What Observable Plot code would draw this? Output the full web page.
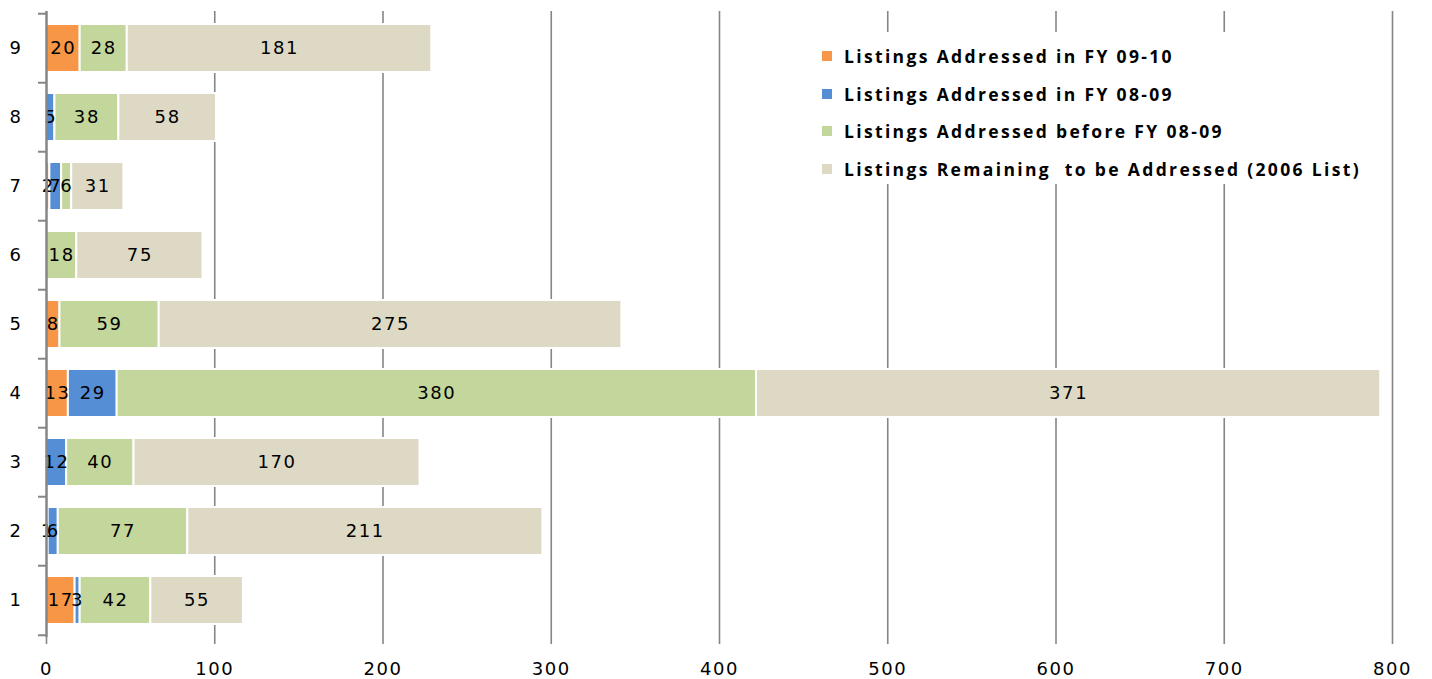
<!DOCTYPE html>
<html>
<head>
<meta charset="utf-8">
<script src="https://cdn.jsdelivr.net/npm/d3@7"></script>
<script src="https://cdn.jsdelivr.net/npm/@observablehq/plot@0.6"></script>
<style>
  html, body { margin: 0; padding: 0; background: #fff; }
  #wrap { position: relative; width: 1432px; height: 679px; }
  #wrap svg { position: absolute; left: 0; top: 0; z-index: 1; }
  #legend { position: absolute; left: 812px; top: 32px; width: 556px; height: 152px; background: #fff; z-index: 2;
    font-family: "Open Sans", sans-serif; font-weight: bold; font-size: 17.5px; color: #000; letter-spacing: 2.35px; }
  .item { position: absolute; left: 10px; display: flex; align-items: center; white-space: nowrap; }
  .sw { width: 10px; height: 10px; margin-right: 12px; }
</style>
</head>
<body>
<div id="wrap"><div id="legend"></div></div>
<script>
const rows = ["1", "2", "3", "4", "5", "6", "7", "8", "9"];
const seriesNames = [
  "Listings Addressed in FY 09-10",
  "Listings Addressed in FY 08-09",
  "Listings Addressed before FY 08-09",
  "Listings Remaining  to be Addressed (2006 List)"
];
const fy0910    = [17, 1, 0, 13, 8, 0, 2, 0, 20];
const fy0809    = [3, 6, 12, 29, 0, 0, 7, 5, 0];
const beforeFy  = [42, 77, 40, 380, 59, 18, 6, 38, 28];
const remaining = [55, 211, 170, 371, 275, 75, 31, 58, 181];
const colors = ["#F79646", "#558ED5", "#C3D69B", "#DDD9C4"];
const xTicks = [0, 100, 200, 300, 400, 500, 600, 700, 800];

const seriesValues = [fy0910, fy0809, beforeFy, remaining];
const data = [];
seriesNames.forEach((s, si) => rows.forEach((r, ri) => data.push({row: r, series: s, value: seriesValues[si][ri]})));

const stackOpts = {x: "value", y: "row", z: "series", order: seriesNames};

const W = 1432, H = 679, mT = 11, mB = 42;
const halfStep = (H - mT - mB) / rows.length / 2;

const chart = Plot.plot({
  width: W,
  height: H,
  marginLeft: 46,
  marginRight: 40,
  marginTop: mT,
  marginBottom: mB,
  style: {fontFamily: "'DejaVu Sans', sans-serif", fontSize: "18px", color: "#000", background: "#fff", letterSpacing: "1.6px"},
  x: {domain: [0, 800], ticks: xTicks, label: null},
  y: {domain: rows.slice().reverse(), label: null, paddingInner: 0.3, paddingOuter: 0.15},
  color: {domain: seriesNames, range: colors},
  marks: [
    Plot.gridX(xTicks.filter(d => d > 0), {stroke: "#868686", strokeOpacity: 1, strokeWidth: 1.6}),
    Plot.barX(data, Plot.stackX({...stackOpts, fill: "series", stroke: "#fff", strokeWidth: 2})),
    Plot.textX(data.filter(d => d.value > 0), Plot.stackX({...stackOpts, text: d => String(d.value), fill: "#000", fontSize: 18})),
    Plot.ruleX([0], {stroke: "#868686", strokeWidth: 2.5}),
    Plot.ruleY([0], {stroke: "#868686", strokeWidth: 2.5}),
    Plot.axisX({ticks: xTicks, tickSize: 7, stroke: "#868686", strokeWidth: 1.6, tickPadding: 18, fontSize: 18}),
    Plot.axisY({tickSize: 0, tickPadding: 24, fontSize: 18}),
    Plot.axisY({text: null, tickSize: 8, stroke: "#868686", strokeWidth: 2, dy: -halfStep}),
    Plot.axisY({ticks: ["1"], text: null, tickSize: 8, stroke: "#868686", strokeWidth: 2, dy: halfStep})
  ]
});
document.getElementById("wrap").prepend(chart);

const legend = document.getElementById("legend");
seriesNames.forEach((s, i) => {
  const it = document.createElement("div");
  it.className = "item";
  it.style.top = (12 + i * 37.5) + "px";
  it.innerHTML = `<span class="sw" style="background:${colors[i]}"></span><span style="white-space:pre">${s}</span>`;
  legend.appendChild(it);
});
</script>
</body>
</html>
